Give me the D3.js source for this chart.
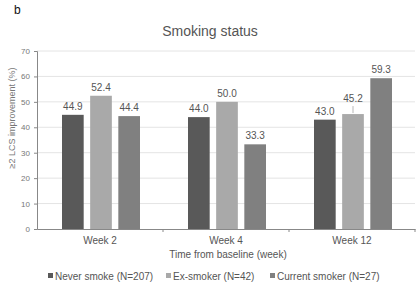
<!DOCTYPE html>
<html>
<head>
<script src="https://cdn.jsdelivr.net/npm/d3@7"></script>
<style>
body { margin: 0; background: #fff; }
text { font-family: "Liberation Sans", Arial, sans-serif; }
</style>
</head>
<body>
<svg id="chart"></svg>
<script>
var weeks = ["Week 2", "Week 4", "Week 12"];
var groups = ["Never smoke (N=207)", "Ex-smoker (N=42)", "Current smoker (N=27)"];
var neverSmoke = [44.9, 44.0, 43.0];
var exSmoker = [52.4, 50.0, 45.2];
var currentSmoker = [44.4, 33.3, 59.3];
var yTicks = [0, 10, 20, 30, 40, 50, 60, 70];
var colors = ["#595959", "#a9a9a9", "#808080"];

var series = [neverSmoke, exSmoker, currentSmoker];
var svgWidth = 420, svgHeight = 286;
var margin = {top: 51, right: 5, bottom: 57, left: 37};
var width = svgWidth - margin.left - margin.right;
var height = svgHeight - margin.top - margin.bottom;

var svg = d3.select("#chart").attr("width", svgWidth).attr("height", svgHeight);
var chart = svg.append("g").attr("transform", "translate(" + margin.left + "," + margin.top + ")");

var x0 = d3.scaleBand().domain(weeks).range([0, width]);
var x1 = d3.scaleBand().domain(d3.range(3)).range([0, 78]).paddingInner(0.23);
var y = d3.scaleLinear().domain([0, 70]).range([height, 0]);

// grid
chart.selectAll(".grid").data(yTicks.slice(1)).enter().append("line")
    .attr("x1", 0).attr("x2", width)
    .attr("y1", d => y(d)).attr("y2", d => y(d))
    .attr("stroke", "#e4e4e4").attr("stroke-width", 1);

// bars
var groupOffset = (x0.bandwidth() - 78) / 2 + 1;
weeks.forEach(function (w, i) {
    var g = chart.append("g").attr("transform", "translate(" + (x0(w) + groupOffset) + ",0)");
    series.forEach(function (s, j) {
        g.append("rect")
            .attr("x", x1(j)).attr("width", x1.bandwidth())
            .attr("y", y(s[i])).attr("height", height - y(s[i]))
            .attr("fill", colors[j]);
        var ly = y(s[i]) - 5;
        if (w === "Week 12" && j === 1) {
            ly = y(s[i]) - 12;
            g.append("line")
                .attr("x1", x1(j) + x1.bandwidth() / 2).attr("x2", x1(j) + x1.bandwidth() / 2)
                .attr("y1", y(s[i]) - 1).attr("y2", y(s[i]) - 8)
                .attr("stroke", "#999").attr("stroke-width", 0.7);
        }
        g.append("text")
            .attr("x", x1(j) + x1.bandwidth() / 2).attr("y", ly)
            .attr("text-anchor", "middle").attr("font-size", 10).attr("fill", "#555")
            .text(s[i].toFixed(1));
    });
});

// axes
var yAxis = chart.append("g").call(d3.axisLeft(y).tickValues(yTicks).tickSize(3).tickPadding(4));
yAxis.select(".domain").attr("stroke", "#888");
yAxis.selectAll(".tick line").attr("stroke", "#888");
yAxis.selectAll("text").attr("font-size", 8).attr("fill", "#777");

var xAxis = chart.append("g").attr("transform", "translate(0," + height + ")")
    .call(d3.axisBottom(x0).tickSize(0).tickPadding(8));
xAxis.select(".domain").attr("stroke", "#888");
xAxis.selectAll("text").attr("font-size", 10).attr("fill", "#555");
chart.selectAll(".xtick").data(weeks).enter().append("line")
    .attr("x1", d => x0(d) + x0.bandwidth()).attr("x2", d => x0(d) + x0.bandwidth())
    .attr("y1", height).attr("y2", height + 3)
    .attr("stroke", "#888");

// labels
svg.append("text").attr("x", 14).attr("y", 14).attr("font-size", 12).attr("fill", "#111").text("b");
svg.append("text").attr("x", 210).attr("y", 36).attr("text-anchor", "middle")
    .attr("font-size", 14).attr("fill", "#555").text("Smoking status");
svg.append("text").attr("x", margin.left + width / 2 + 2).attr("y", 258).attr("text-anchor", "middle")
    .attr("font-size", 10).attr("fill", "#555").text("Time from baseline (week)");
svg.append("text")
    .attr("transform", "translate(15,118) rotate(-90)")
    .attr("text-anchor", "middle").attr("font-size", 9).attr("fill", "#777")
    .text("\u22652 LCS improvement (%)");

// legend
var legendX = [48, 166, 270];
var legend = svg.selectAll(".leg").data(groups).enter().append("g")
    .attr("transform", (d, i) => "translate(" + legendX[i] + ",280)");
legend.append("rect").attr("x", 0).attr("y", -7).attr("width", 5).attr("height", 5)
    .attr("fill", (d, i) => colors[i]);
legend.append("text").attr("x", 7).attr("y", 0).attr("font-size", 10).attr("fill", "#555").text(d => d);
</script>
</body>
</html>
